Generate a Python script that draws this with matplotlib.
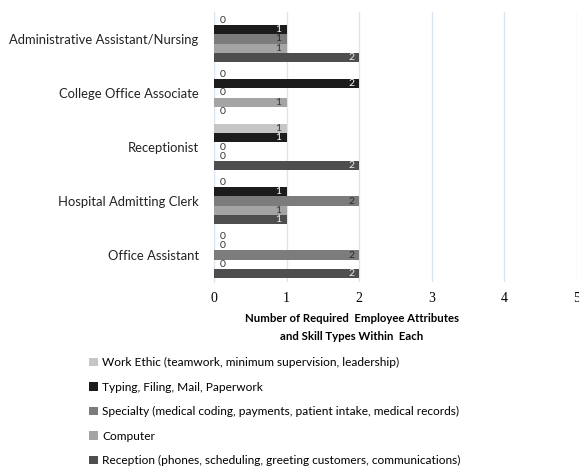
import matplotlib.pyplot as plt
from matplotlib.patches import Patch
import numpy as np

jobs = ['Administrative Assistant/Nursing', 'College Office Associate', 'Receptionist',
        'Hospital Admitting Clerk', 'Office Assistant']
series = ['Work Ethic (teamwork, minimum supervision, leadership)',
          'Typing, Filing, Mail, Paperwork',
          'Specialty (medical coding, payments, patient intake, medical records)',
          'Computer',
          'Reception (phones, scheduling, greeting customers, communications)']
work_ethic = [0, 0, 1, 0, 0]
typing = [1, 2, 1, 1, 0]
specialty = [1, 0, 0, 2, 2]
computer = [1, 1, 0, 1, 0]
reception = [2, 0, 2, 1, 2]
xticks = [0, 1, 2, 3, 4, 5]

values = [work_ethic, typing, specialty, computer, reception]
colors = ['#c6c6c6', '#1c1c1c', '#7c7c7c', '#a4a4a4', '#4e4e4e']
label_colors = ['#333333', '#ffffff', '#2a2a2a', '#333333', '#f0f0f0']

fig = plt.figure(figsize=(5.79, 4.70), dpi=100)
ax = fig.add_axes([214 / 579, 1 - 282 / 470, 363 / 579, 270 / 470])

y = np.arange(len(jobs))
h = 0.17
for j, vals in enumerate(values):
    pos = y + (j - 2) * h
    bars = ax.barh(pos, vals, height=h, color=colors[j], edgecolor='none', zorder=3)
    for b, v in zip(bars, vals):
        cy = b.get_y() + h / 2
        if v == 0:
            ax.text(0.08, cy, '0', ha='left', va='center', fontsize=7.5,
                    color='#333333', family='Lato', zorder=4)
        else:
            ax.text(v - 0.07, cy, str(v), ha='right', va='center', fontsize=7.5,
                    color=label_colors[j], family='Lato', zorder=4)

ax.set_xlim(0, 5)
ax.set_ylim(len(jobs) - 0.5, -0.5)
ax.set_xticks(xticks)
ax.set_xticklabels([str(t) for t in xticks], family='Liberation Serif', fontsize=10)
ax.set_yticks(y)
ax.set_yticklabels(jobs, family='Lato', fontsize=9.4, color='#222222')
ax.tick_params(axis='x', length=0, pad=7)
ax.tick_params(axis='y', length=0, pad=11)
ax.grid(axis='x', color='#dbe5f1', linewidth=1, zorder=0)
for s in ['top', 'right', 'bottom']:
    ax.spines[s].set_visible(False)
ax.spines['left'].set_color('#dbe5f1')

fig.text(352 / 579, 1 - 319 / 470, 'Number of Required  Employee Attributes',
         ha='center', va='center', fontsize=8.2, fontweight='bold', family='Lato')
fig.text(352 / 579, 1 - 337 / 470, 'and Skill Types Within  Each',
         ha='center', va='center', fontsize=8.2, fontweight='bold', family='Lato')

handles = [Patch(facecolor=c, edgecolor='none') for c in colors]
fig.legend(handles, series, loc='upper left', bbox_to_anchor=(89 / 579, 1 - 357 / 470),
           frameon=False, prop={'family': 'Lato', 'size': 8.6},
           handlelength=0.75, handleheight=0.75, handletextpad=0.35, labelspacing=1.13,
           borderpad=0, borderaxespad=0)

fig.savefig('out.png', dpi=100)
